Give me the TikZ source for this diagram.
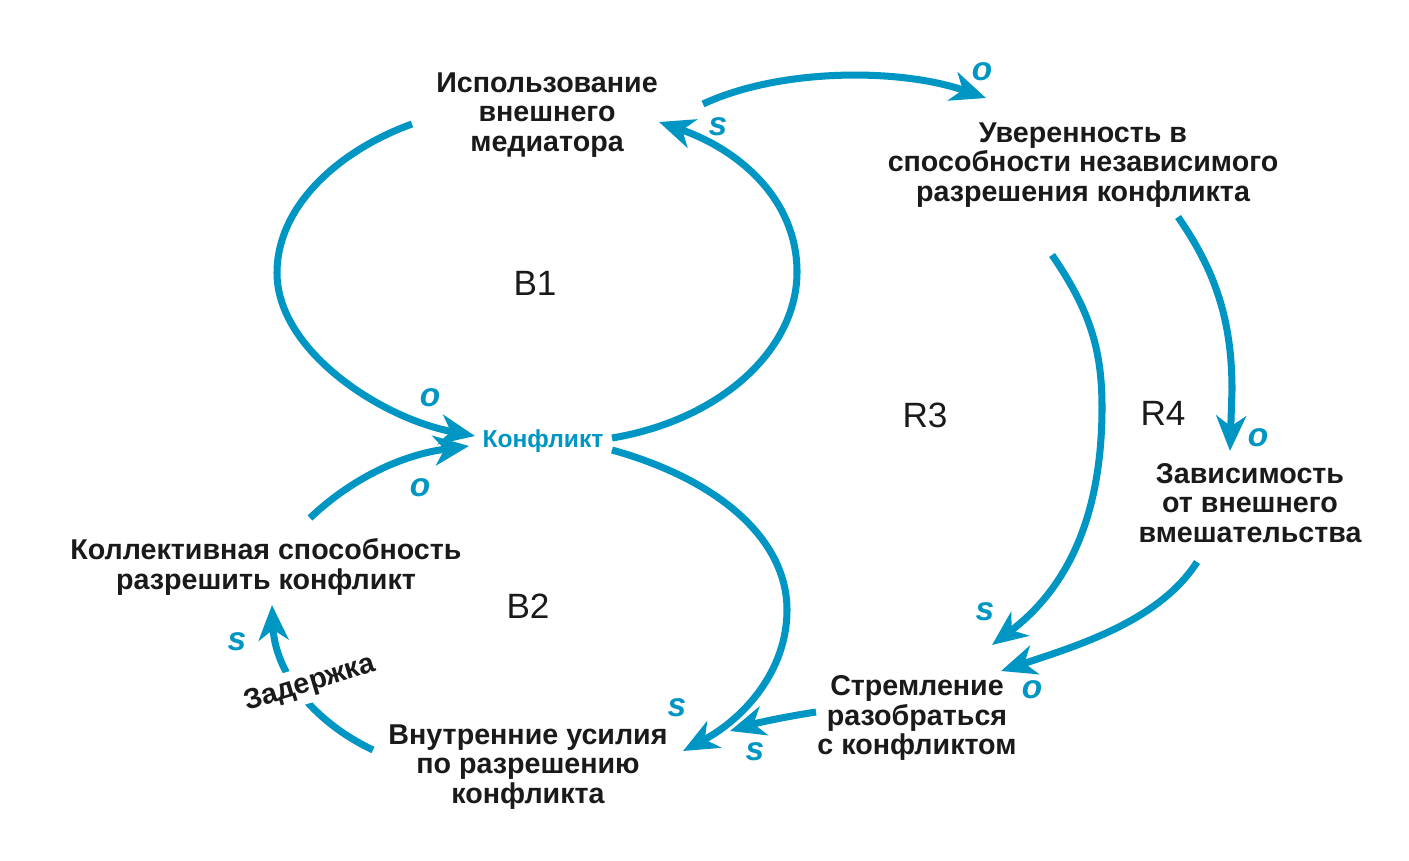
\documentclass[tikz,border=0pt]{standalone}
\usepackage{fontspec}
\setmainfont{Liberation Sans}
\usetikzlibrary{arrows.meta}
\definecolor{loopblue}{RGB}{0,150,196}
\definecolor{ink}{RGB}{26,26,26}
\begin{document}
\begin{tikzpicture}[x=0.02cm,y=-0.02cm,
  lbl/.style={font=\bfseries\fontsize{16.3}{16.6}\selectfont, text=ink, align=center, inner sep=1pt},
  loopname/.style={font=\fontsize{20}{20}\selectfont, text=ink},
  pol/.style={font=\bfseries\itshape\fontsize{19}{19}\selectfont, text=loopblue},
  link/.style={draw=loopblue, line width=4pt, -{Stealth[length=20pt,width=17pt,inset=6pt]}},
]
\useasboundingbox[fill=white] (0,0) rectangle (1409,860);

% variables
\node[lbl] (med) at (547,115) {Использование\\внешнего\\медиатора};
\node[lbl] (uver) at (1083,165) {Уверенность в\\способности независимого\\разрешения конфликта};
\node[lbl, text=loopblue, font=\bfseries\fontsize{14}{14}\selectfont] (konf) at (543,441) {Конфликт};
\node[lbl] (zav) at (1250,503) {Зависимость\\от внешнего\\вмешательства};
\node[lbl] (koll) at (266,567) {Коллективная способность\\разрешить конфликт};
\node[lbl] (strem) at (917,718) {Стремление\\разобраться\\с конфликтом};
\node[lbl] (vnutr) at (528,767) {Внутренние усилия\\по разрешению\\конфликта};

% loop names
\node[loopname] (b1) at (535,283) {B1};
\node[loopname] (b2) at (528,606) {B2};
\node[loopname] (r3) at (925,415) {R3};
\node[loopname] (r4) at (1163,413) {R4};

% connector ends
\coordinate (c1s) at (412,124);
\coordinate (c1e) at (475,436);
\coordinate (c2s) at (612,438);
\coordinate (c2e) at (659,122);
\coordinate (c3s) at (703,104);
\coordinate (c3e) at (986,98);
\coordinate (c4s) at (1052,255);
\coordinate (c4e) at (992,645);
\coordinate (c5s) at (1178,217);
\coordinate (c5e) at (1230,451);
\coordinate (c6s) at (1197,562);
\coordinate (c6e) at (1001,671);
\coordinate (c7s) at (816,712);
\coordinate (c7e) at (730,731);
\coordinate (c8s) at (612,450);
\coordinate (c8e) at (683,751);
\coordinate (c9s) at (373,750);
\coordinate (c9e) at (272,605);
\coordinate (c10s) at (310,518);
\coordinate (c10e) at (469,446);

% connectors
\draw[link] (c1s) .. controls (340,150) and (277,205) .. (277,273)
  .. controls (277,350) and (380,418) .. (c1e);
\draw[link] (c2s) .. controls (720,420) and (797,350) .. (797,272)
  .. controls (797,200) and (740,150) .. (c2e);
\draw[link] (c3s) .. controls (780,68) and (900,68) .. (c3e);
\draw[link] (c4s) .. controls (1090,310) and (1102,350) .. (1102,407)
  .. controls (1102,520) and (1065,590) .. (c4e);
\draw[link] (c5s) .. controls (1215,270) and (1232,320) .. (1232,390) -- (c5e);
\draw[link] (c6s) .. controls (1160,620) and (1080,645) .. (c6e);
\draw[link] (c7s) .. controls (790,716) and (760,722) .. (c7e);
\draw[link] (c8s) .. controls (720,480) and (787,540) .. (787,610)
  .. controls (787,670) and (745,718) .. (c8e);
\draw[link] (c9s) .. controls (310,720) and (275,670) .. (c9e);
\draw[link] (c10s) .. controls (350,480) and (400,455) .. (c10e);

% delay label
\node[lbl, fill=white, rotate=17, inner sep=3pt] (delay) at (310,684) {Задержка};

% polarities
\node[pol] (p1) at (430,398) {o};
\node[pol] (p2) at (718,127) {s};
\node[pol] (p3) at (982,72) {o};
\node[pol] (p4) at (985,612) {s};
\node[pol] (p5) at (1258,438) {o};
\node[pol] (p6) at (1032,690) {o};
\node[pol] (p7) at (755,752) {s};
\node[pol] (p8) at (677,708) {s};
\node[pol] (p9) at (237,642) {s};
\node[pol] (p10) at (420,488) {o};
\end{tikzpicture}
\end{document}
